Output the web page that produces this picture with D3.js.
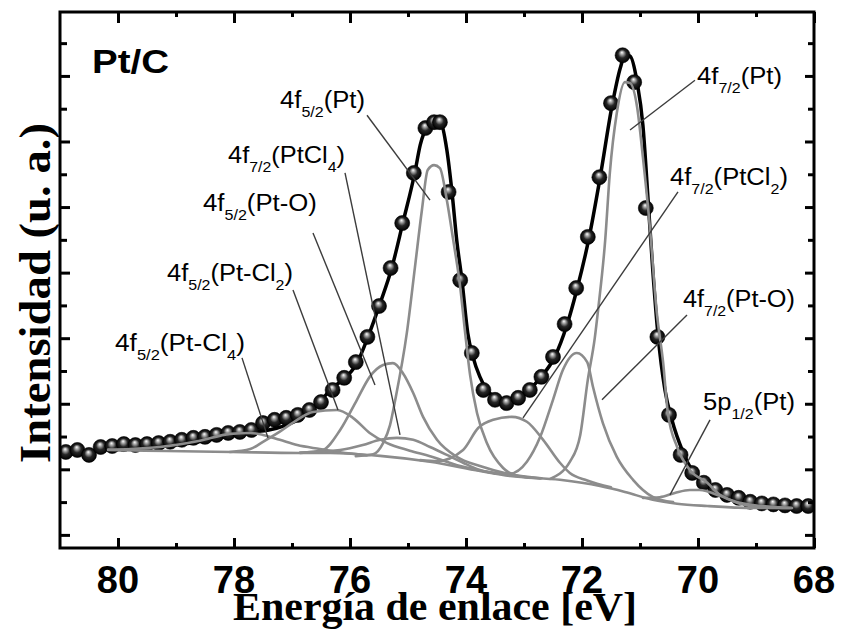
<!DOCTYPE html>
<html><head><meta charset="utf-8">
<script src="https://cdn.jsdelivr.net/npm/d3@7/dist/d3.min.js"></script>
<style>body{margin:0;background:#fff} svg{display:block}</style>
</head><body>
<svg id="chart" width="841" height="629"></svg>
<script>
// ---------- DATA ----------
// experimental points (binding energy eV, intensity a.u.)
const dataEV = [80.9,80.7,80.5,80.3,80.1,79.9,79.7,79.5,79.3,79.1,78.9,78.7,78.5,78.3,78.1,77.9,77.7,77.5,77.3,77.1,76.9,76.7,76.5,76.3,76.1,75.9,75.7,75.5,75.3,75.1,74.9,74.7,74.55,74.45,74.3,74.1,73.9,73.7,73.5,73.3,73.1,72.9,72.7,72.5,72.3,72.1,71.9,71.7,71.5,71.3,71.1,70.9,70.7,70.5,70.3,70.1,69.9,69.7,69.5,69.3,69.1,68.9,68.7,68.5,68.3,68.1];
const dataI  = [2.53,2.59,2.44,2.68,2.71,2.77,2.74,2.77,2.80,2.84,2.90,2.96,2.99,3.05,3.11,3.14,3.20,3.41,3.51,3.57,3.66,3.81,4.05,4.42,4.79,5.27,6.04,6.98,8.14,9.51,11.04,12.41,12.59,12.59,10.46,7.77,5.55,4.42,4.12,4.02,4.18,4.42,4.82,5.43,6.43,7.53,9.09,10.91,13.17,14.63,13.81,9.97,6.04,3.66,2.44,1.89,1.59,1.37,1.22,1.13,1.01,0.96,0.93,0.90,0.88,0.88];

// fit envelope
const envEV = [80.17,79.5,79.0,78.5,78.0,77.7,77.4,77.1,76.9,76.7,76.5,76.3,76.12,75.88,75.69,75.48,75.28,75.09,74.88,74.79,74.66,74.55,74.45,74.33,74.24,74.16,74.07,73.97,73.88,73.76,73.64,73.47,73.29,73.12,72.93,72.72,72.47,72.26,72.09,71.88,71.69,71.48,71.34,71.26,71.17,71.05,70.95,70.86,70.78,70.69,70.57,70.45,70.26,70.09,69.79,69.45,68.93,68.29];
const envI  = [2.59,2.65,2.74,2.87,3.05,3.14,3.20,3.35,3.51,3.78,4.10,4.50,4.73,5.24,6.04,7.07,8.14,9.51,11.07,11.89,12.50,12.71,12.65,11.74,10.43,8.99,7.77,6.16,5.43,4.82,4.42,4.18,4.05,4.15,4.39,4.79,5.43,6.40,7.47,9.05,10.88,13.11,14.24,14.63,14.60,13.81,12.50,10.21,8.08,6.10,4.42,3.51,2.53,1.92,1.43,1.16,0.98,0.85];

// background (Shirley)
const bgEV = [80.17,79.16,78.02,76.86,76.34,75.48,74.62,73.76,73.24,72.38,71.69,71.26,70.78,70.36,69.84,69.05,68.38];
const bgI  = [2.59,2.56,2.53,2.50,2.50,2.41,2.23,1.95,1.80,1.68,1.49,1.31,1.07,0.95,0.88,0.82,0.82];

// fitted components
const ptCl4_52EV = [80.17,79.79,79.28,78.59,78.07,77.72,77.50,77.21,76.91,76.52,76.17,75.71];
const ptCl4_52I  = [2.60,2.62,2.68,2.87,3.08,3.11,3.05,2.90,2.74,2.62,2.52,2.43];
const ptCl2_52EV = [78.07,77.72,77.50,77.21,76.91,76.64,76.22,75.95,75.66,75.36,74.97,74.62,74.10,73.50];
const ptCl2_52I  = [2.53,2.62,2.84,3.15,3.51,3.75,3.81,3.57,3.11,2.80,2.57,2.40,2.10,1.88];
const ptO_52EV   = [76.86,76.47,76.17,75.88,75.66,75.43,75.26,75.09,74.91,74.74,74.50,74.16,73.76,73.24,72.70];
const ptO_52I    = [2.50,2.59,3.20,4.12,4.82,5.18,5.24,4.94,4.33,3.60,2.90,2.38,2.10,1.85,1.73];
const ptCl4_72EV = [76.86,76.17,75.78,75.48,75.19,74.91,74.62,74.33,74.05,73.76,73.36,72.90];
const ptCl4_72I  = [2.51,2.59,2.74,2.90,2.96,2.90,2.68,2.44,2.20,1.98,1.85,1.75];
const pt_52EV    = [75.90,75.60,75.43,75.31,75.22,75.02,74.88,74.76,74.66,74.55,74.45,74.33,74.22,74.10,74.02,73.93,73.81,73.64,73.36,73.07,72.72];
const pt_52I     = [2.40,2.46,2.80,3.35,4.12,6.16,8.17,9.91,11.13,11.28,11.19,10.21,8.99,7.56,6.25,4.88,3.72,2.80,2.04,1.78,1.72];
const ptCl2_72EV = [74.79,74.50,74.05,73.79,73.53,73.21,72.95,72.67,72.38,72.21,71.91,71.50];
const ptCl2_72I  = [2.28,2.25,2.59,3.26,3.51,3.60,3.45,2.90,2.20,1.89,1.66,1.45];
const ptO_72EV   = [73.50,73.24,72.95,72.72,72.50,72.33,72.09,71.91,71.81,71.64,71.40,71.12,70.78,70.43];
const ptO_72I    = [1.87,1.87,2.23,2.99,4.12,5.03,5.55,5.27,4.51,3.41,2.38,1.68,1.16,1.00];
const pt_72EV    = [72.55,72.21,72.03,71.90,71.78,71.72,71.60,71.52,71.40,71.26,71.17,71.05,70.95,70.83,70.71,70.60,70.52,70.36,70.14,69.84,69.62,69.05,68.38];
const pt_72I     = [1.71,2.23,3.05,4.73,6.00,6.90,8.99,11.04,12.87,13.81,13.78,13.05,11.52,9.39,6.77,5.24,3.72,2.68,1.98,1.59,1.22,0.91,0.82];
const p12EV      = [70.95,70.66,70.40,70.14,69.97,69.62,69.28,68.93,68.41];
const p12I       = [1.13,1.15,1.28,1.37,1.37,1.19,0.95,0.85,0.82];

// axis ticks
const xMajor = [80,78,76,74,72,70,68];
const xMinor = [79,77,75,73,71,69];
const yMajor = [0,2,4,6,8,10,12,14];
const yMinor = [1,3,5,7,9,11,13,15];

// annotations
const labelParts = [
  [["4f",0],["5/2",1],["(Pt)",0]],
  [["4f",0],["7/2",1],["(PtCl",0],["4",1],[")",0]],
  [["4f",0],["5/2",1],["(Pt-O)",0]],
  [["4f",0],["5/2",1],["(Pt-Cl",0],["2",1],[")",0]],
  [["4f",0],["5/2",1],["(Pt-Cl",0],["4",1],[")",0]],
  [["4f",0],["7/2",1],["(Pt)",0]],
  [["4f",0],["7/2",1],["(PtCl",0],["2",1],[")",0]],
  [["4f",0],["7/2",1],["(Pt-O)",0]],
  [["5p",0],["1/2",1],["(Pt)",0]]
];
const labelLeftEV  = [77.207,78.103,78.534,79.155,80.052,70.017,70.483,70.259,69.914];
const labelRightEV = [75.741,76.086,76.569,76.983,77.810,68.552,68.448,68.328,68.328];
const labelBaseI   = [13.02,11.34,9.88,7.74,5.61,13.75,10.67,6.95,3.81];
const leadFromEV = [75.707,76.086,76.638,76.983,77.862,70.052,70.345,70.190,69.793];
const leadFromI  = [12.80,11.04,9.21,7.47,5.40,13.87,10.46,6.71,3.51];
const leadToEV   = [74.621,75.138,75.569,76.207,77.414,71.172,73.017,71.655,70.483];
const leadToI    = [10.21,3.05,4.57,3.81,2.96,12.35,3.57,4.12,1.22];

const sampleName = "Pt/C";
const xTitle = "Energía de enlace [eV]";
const yTitle = "Intensidad (u. a.)";

// ---------- CHART ----------
const L=60, R=814, T=12, B=548;
const svg = d3.select("#chart");
const x = d3.scaleLinear().domain([81,68]).range([L,R]);
const y = d3.scaleLinear().domain([-0.4,15.95]).range([B,T]);

const defs = svg.append("defs");
const grad = defs.append("radialGradient").attr("id","ball")
  .attr("cx","50%").attr("cy","50%").attr("r","50%").attr("fx","45%").attr("fy","30%");
grad.append("stop").attr("offset","0%").attr("stop-color","#ffffff");
grad.append("stop").attr("offset","22%").attr("stop-color","#a8a8a8");
grad.append("stop").attr("offset","55%").attr("stop-color","#262626");
grad.append("stop").attr("offset","100%").attr("stop-color","#000000");
defs.append("clipPath").attr("id","plotclip").append("rect")
  .attr("x",L).attr("y",T).attr("width",R-L).attr("height",B-T);

const zip = (a,b)=>a.map((v,i)=>[v,b[i]]);
const line = d3.line().x(d=>x(d[0])).y(d=>y(d[1])).curve(d3.curveMonotoneX);

const plot = svg.append("g").attr("clip-path","url(#plotclip)");

// envelope
plot.append("path").datum(zip(envEV,envI)).attr("d",line)
  .attr("fill","none").attr("stroke","#000").attr("stroke-width",3.5);

// data spheres
plot.append("g").selectAll("circle").data(zip(dataEV,dataI)).join("circle")
  .attr("cx",d=>x(d[0])).attr("cy",d=>y(d[1])).attr("r",7.5)
  .attr("fill","url(#ball)").attr("stroke","#000").attr("stroke-width",0.6);

// components + background
const comps = [
  zip(bgEV,bgI), zip(ptCl4_52EV,ptCl4_52I), zip(ptCl2_52EV,ptCl2_52I), zip(ptO_52EV,ptO_52I),
  zip(ptCl4_72EV,ptCl4_72I), zip(pt_52EV,pt_52I), zip(ptCl2_72EV,ptCl2_72I),
  zip(ptO_72EV,ptO_72I), zip(pt_72EV,pt_72I), zip(p12EV,p12I)
];
plot.append("g").selectAll("path").data(comps).join("path").attr("d",line)
  .attr("fill","none").attr("stroke","#8c8c8c").attr("stroke-width",2.6)
  .attr("stroke-linecap","round");

// leader lines
svg.append("g").selectAll("line").data(leadFromEV).join("line")
  .attr("x1",(d,i)=>x(leadFromEV[i])).attr("y1",(d,i)=>y(leadFromI[i]))
  .attr("x2",(d,i)=>x(leadToEV[i])).attr("y2",(d,i)=>y(leadToI[i]))
  .attr("stroke","#3c3c3c").attr("stroke-width",1.4);

// labels
const sansF = "'Liberation Sans', Arial, Helvetica, sans-serif";
labelParts.forEach((parts,i)=>{
  const g = svg.append("g").attr("transform",`translate(${x(labelLeftEV[i])},${y(labelBaseI[i])})`);
  const t = g.append("text").attr("font-family",sansF).attr("fill","#000");
  let sub = 0;
  parts.forEach(([s,isSub])=>{
    const ts = t.append("tspan").text(s).attr("font-size", isSub?15:24);
    if(isSub!==sub){ ts.attr("dy", isSub?9:-9); sub=isSub; }
  });
  const w = t.node().getBBox().width;
  const target = x(labelRightEV[i]) - x(labelLeftEV[i]);
  t.attr("transform",`scale(${target/w},1)`);
});

// sample name
{
  const g = svg.append("g").attr("transform",`translate(92,73)`);
  const t = g.append("text").attr("font-family",sansF).attr("font-weight","bold")
    .attr("font-size",33).text(sampleName);
  const w = t.node().getBBox().width;
  t.attr("transform",`scale(${77/w},1)`);
}

// axes ticks
function ticks(axis, tr, vals, size){
  const g = svg.append("g").attr("transform",tr)
    .call(axis.tickValues(vals).tickSize(size).tickFormat(""));
  g.select(".domain").remove();
  g.selectAll(".tick line").attr("stroke","#000").attr("stroke-width",3);
  return g;
}
ticks(d3.axisBottom(x), `translate(0,${B})`, xMajor, -10);
ticks(d3.axisBottom(x), `translate(0,${B})`, xMinor, -5);
ticks(d3.axisTop(x), `translate(0,${T})`, xMajor, -11);
ticks(d3.axisTop(x), `translate(0,${T})`, xMinor, -5);
ticks(d3.axisLeft(y), `translate(${L},0)`, yMajor, -10);
ticks(d3.axisLeft(y), `translate(${L},0)`, yMinor, -7);
ticks(d3.axisRight(y), `translate(${R},0)`, yMajor, -9);
ticks(d3.axisRight(y), `translate(${R},0)`, yMinor, -6);

// tick labels
svg.append("g").selectAll("text").data(xMajor).join("text")
  .attr("x",d=>x(d)).attr("y",593).attr("text-anchor","middle")
  .attr("font-family",sansF).attr("font-weight","bold").attr("font-size",38)
  .text(d=>d3.format("d")(d));

// frame
svg.append("rect").attr("x",L).attr("y",T).attr("width",R-L).attr("height",B-T)
  .attr("fill","none").attr("stroke","#000").attr("stroke-width",3);

// axis titles
const serifF = "'Liberation Serif', 'Times New Roman', serif";
{
  const g = svg.append("g").attr("transform",`translate(435,620)`);
  const t = g.append("text").attr("font-family",serifF).attr("font-weight","bold")
    .attr("font-size",40).attr("text-anchor","middle").text(xTitle);
  const w = t.node().getBBox().width;
  t.attr("transform",`scale(${404/w},1)`);
}
{
  const g = svg.append("g").attr("transform",`translate(50,293) rotate(-90)`);
  const t = g.append("text").attr("font-family",serifF).attr("font-weight","bold")
    .attr("font-size",44).attr("text-anchor","middle").text(yTitle);
  const w = t.node().getBBox().width;
  t.attr("transform",`scale(${340/w},1)`);
}
</script>
</body></html>
